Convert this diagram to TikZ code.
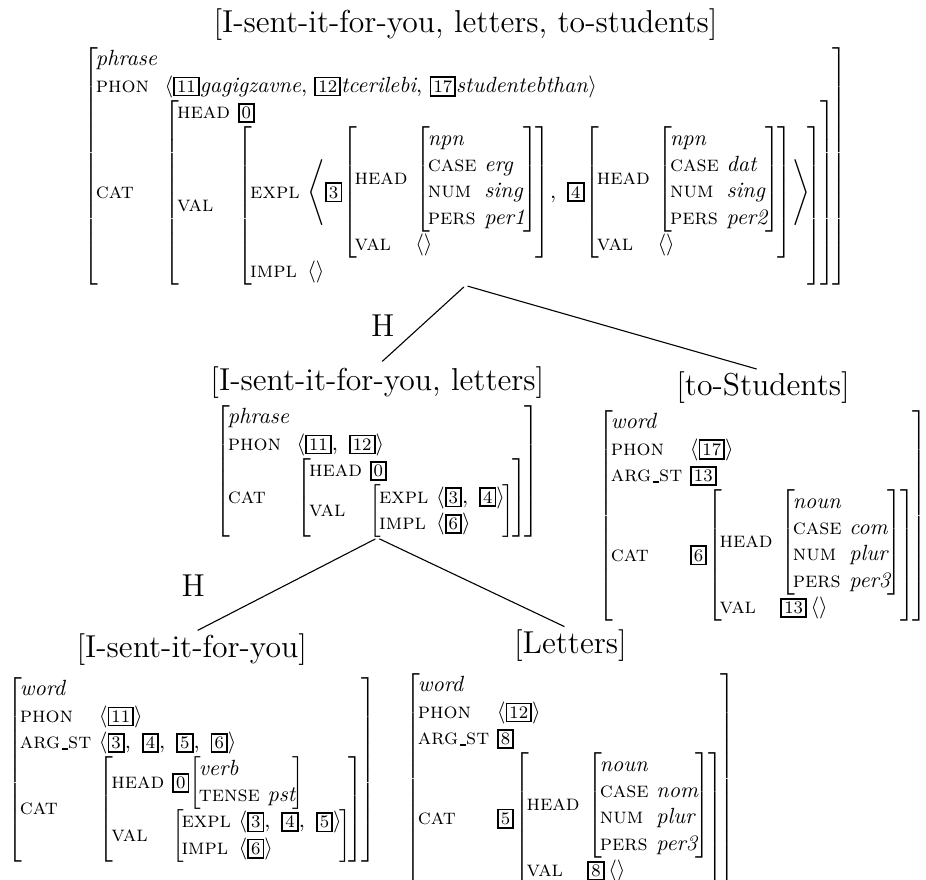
\documentclass[tikz,border=0pt]{standalone}
\usepackage{amsmath}
\usepackage{tikz}
\usetikzlibrary{positioning}

% attribute-value matrices
\newcommand{\avm}[1]{{\left[\begin{array}{@{\hspace{-1pt}}l@{\hspace{3.5pt}}l@{\hspace{-1pt}}}#1\end{array}\right]}}
\newcommand{\feat}[1]{\mbox{\fontsize{10}{12}\selectfont\scshape #1}}
\newcommand{\us}{\kern.06em\rule[-0.4pt]{.3em}{0.7pt}}
\newcommand{\val}[1]{\mbox{\itshape #1}}
\newcommand{\tg}[1]{\mbox{\setlength{\fboxsep}{1pt}\setlength{\fboxrule}{0.8pt}\fbox{\footnotesize #1}}}
\newcommand{\lst}[1]{{\left\langle #1\right\rangle}}

\begin{document}
\begin{tikzpicture}[
    x=0.4545pt, y=-0.4545pt,
    avm/.style={inner sep=0pt, anchor=north west},
    phr/.style={font=\Large, inner sep=0pt},
    hd/.style={font=\Large, inner sep=0pt},
    edge/.style={draw, line width=0.5pt, shorten <=1pt, shorten >=3pt}
  ]
  \useasboundingbox (0,0) rectangle (926,879);

  % mother
  \node[avm] (top) at (83,47) {$\avm{
      \val{phrase} & \\
      \feat{phon} & \mbox{$\langle$\tg{11}\textit{gagigzavne}, \tg{12}\textit{tcerilebi}, \tg{17}\textit{studentebthan}$\rangle$} \\
      \feat{cat} & \avm{
        \feat{head} & \tg{0} \\
        \feat{val} & \avm{
          \feat{expl} & \Bigg\langle \tg{3}\avm{
              \feat{head} & \avm{\val{npn} & \\ \feat{case} & \val{erg} \\ \feat{num} & \val{sing} \\ \feat{pers} & \val{per1}} \\
              \feat{val} & \langle\rangle},\ \tg{4}\avm{
              \feat{head} & \avm{\val{npn} & \\ \feat{case} & \val{dat} \\ \feat{num} & \val{sing} \\ \feat{pers} & \val{per2}} \\
              \feat{val} & \langle\rangle} \Bigg\rangle \\
          \feat{impl} & \langle\rangle}}
    }$};
  \node[phr, above=3pt of top] (topT) {[I-sent-it-for-you, letters, to-students]};

  % head daughter
  \node[avm] (mid) at (215,405) {$\avm{
      \val{phrase} & \\
      \feat{phon} & \lst{\tg{11},\ \tg{12}} \\
      \feat{cat} & \avm{
        \feat{head} & \tg{0} \\
        \feat{val} & \avm{\feat{expl} & \lst{\tg{3},\ \tg{4}} \\ \feat{impl} & \lst{\tg{6}}}}
    }$};
  \node[phr, above=3pt of mid] (midT) {[I-sent-it-for-you, letters]};

  % complement
  \node[avm] (stu) at (598,410) {$\avm{
      \val{word} & \\
      \feat{phon} & \lst{\tg{17}} \\
      \feat{arg\us st} & \tg{13} \\
      \feat{cat} & \tg{6}\avm{
        \feat{head} & \avm{\val{noun} & \\ \feat{case} & \val{com} \\ \feat{num} & \val{plur} \\ \feat{pers} & \val{per3}} \\
        \feat{val} & \tg{13}\,\langle\rangle}
    }$};
  \node[anchor=south west, inner sep=0pt] (stuDot) at (stu.south east) {.};
  \node[phr, above=3pt of stu] (stuT) {[to-Students]};

  % verb
  \node[avm] (isent) at (7,677) {$\avm{
      \val{word} & \\
      \feat{phon} & \lst{\tg{11}} \\
      \feat{arg\us st} & \lst{\tg{3},\ \tg{4},\ \tg{5},\ \tg{6}} \\
      \feat{cat} & \avm{
        \feat{head} & \tg{0}\avm{\val{verb} & \\ \feat{tense} & \val{pst}} \\
        \feat{val} & \avm{\feat{expl} & \lst{\tg{3},\ \tg{4},\ \tg{5}} \\ \feat{impl} & \lst{\tg{6}}}}
    }$};
  \node[phr, above=5pt of isent] (isentT) {[I-sent-it-for-you]};

  % object
  \node[avm] (let) at (405,673) {$\avm{
      \val{word} & \\
      \feat{phon} & \lst{\tg{12}} \\
      \feat{arg\us st} & \tg{8} \\
      \feat{cat} & \tg{5}\avm{
        \feat{head} & \avm{\val{noun} & \\ \feat{case} & \val{nom} \\ \feat{num} & \val{plur} \\ \feat{pers} & \val{per3}} \\
        \feat{val} & \tg{8}\,\langle\rangle}
    }$};
  \node[phr, above=5pt of let] (letT) {[Letters]};

  % branches
  \draw[edge] (top.south) -- node[hd, pos=.5, left=12pt] (h1) {H} (midT.north);
  \draw[edge] (top.south) -- (stuT.north);
  \draw[edge] (mid.south) -- node[hd, pos=.5, left=36pt] (h2) {H} (isentT.north);
  \draw[edge] (mid.south) -- (letT.north);
\end{tikzpicture}
\end{document}
